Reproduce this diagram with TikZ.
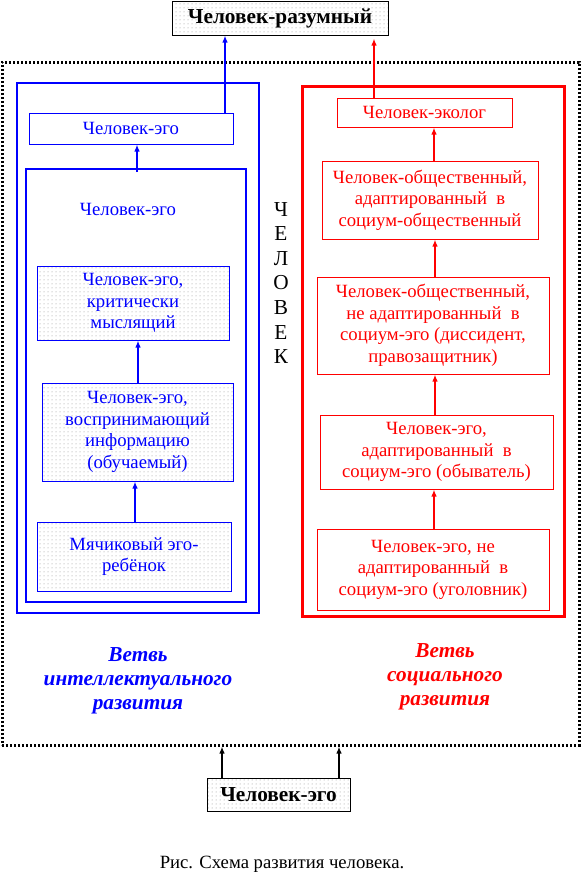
\documentclass[tikz,border=0pt]{standalone}
\usepackage{fontspec}
\setmainfont{Liberation Serif}
\usetikzlibrary{arrows.meta,patterns}
\pgfdeclarepatternformonly{mydots}{\pgfqpoint{-0.6pt}{-0.6pt}}{\pgfqpoint{0.6pt}{0.6pt}}{\pgfqpoint{4pt}{4pt}}{\pgfpathcircle{\pgfqpoint{0pt}{0pt}}{0.5pt}\pgfusepath{fill}}
\definecolor{mblue}{RGB}{0,0,255}
\definecolor{mred}{RGB}{255,0,0}
\tikzset{
  txt/.style={font=\fontsize{18.7}{21.5}\selectfont},
  bbox/.style={draw=mblue, line width=1pt, text=mblue, txt, align=center, inner sep=0pt},
  rbox/.style={draw=mred, line width=1pt, text=mred, txt, align=center, inner sep=0pt},
  kbox/.style={draw=black, line width=1pt, text=black, font=\fontsize{21.3}{24.5}\selectfont\bfseries, inner sep=0pt},
  dotfill/.style={pattern=mydots, pattern color=black!45},
  barrow/.style={draw=mblue, line width=1.5pt, -{Latex[length=7pt,width=5.5pt]}},
  rarrow/.style={draw=mred, line width=1.5pt, -{Latex[length=7pt,width=5.5pt]}},
  karrow/.style={draw=black, line width=1.5pt, -{Latex[length=7pt,width=5.5pt]}},
  frame/.style={inner sep=0pt, fill=none}
}
\begin{document}
\begin{tikzpicture}[x=1pt,y=-1pt]
\useasboundingbox (0,0) rectangle (583,892);

% outer dotted frame
\node[frame, draw=black, line width=3pt, dash pattern=on 2.2pt off 1.8pt,
  minimum width=577pt, minimum height=683pt] (outer) at (290.5,403.5) {};

% top and bottom boxes
\node[kbox, dotfill, minimum width=216pt, minimum height=34pt] (razum) at (280,18) {Человек-разумный};
\node[kbox, dotfill, minimum width=143pt, minimum height=33pt] (egoB) at (278.5,794.5) {Человек-эго};

% blue branch
\node[frame, draw=mblue, line width=2.7pt, minimum width=242pt, minimum height=530pt] (bout) at (138,348) {};
\node[frame, draw=mblue, line width=2pt, minimum width=220pt, minimum height=433pt] (binner) at (136,385.5) {};
\node[bbox, minimum width=204pt, minimum height=31pt] (egoS) at (131,128.5) {Человек-эго};
\node[text=mblue, txt] (egoL) at (128,209) {Человек-эго};
\node[bbox, dotfill, minimum width=192pt, minimum height=74pt] (krit) at (133,303) {Человек-эго,\\критически\\мыслящий};
\node[bbox, dotfill, minimum width=191pt, minimum height=98pt] (vosp) at (137.5,432) {Человек-эго,\\воспринимающий\\информацию\\(обучаемый)};
\node[bbox, dotfill, minimum width=194pt, minimum height=69pt] (myach) at (134,556.5) {Мячиковый эго-\\ребёнок};

% red branch
\node[frame, draw=mred, line width=3pt, minimum width=262pt, minimum height=530pt] (rout) at (433,351) {};
\node[rbox, minimum width=175pt, minimum height=29pt] (ecol) at (424.5,112.5) {Человек-эколог};
\node[rbox, minimum width=216pt, minimum height=78pt] (obsh) at (430,200) {Человек-общественный,\\адаптированный\ \ в\\социум-общественный};
\node[rbox, minimum width=232pt, minimum height=97pt] (nead) at (433,325.5) {Человек-общественный,\\не адаптированный\ \ в\\социум-эго (диссидент,\\правозащитник)};
\node[rbox, minimum width=233pt, minimum height=74pt] (obyv) at (436.5,452) {Человек-эго,\\адаптированный\ \ в\\социум-эго (обыватель)};
\node[rbox, minimum width=232pt, minimum height=81pt] (ugol) at (433,569.5) {Человек-эго, не\\адаптированный\ \ в\\социум-эго (уголовник)};

% vertical word
\node[align=center, font=\fontsize{21.3}{24.6}\selectfont, inner sep=0pt] (chel) at (281,283) {Ч\\Е\\Л\\О\\В\\Е\\К};

% branch labels
\node[align=center, text=mblue, font=\fontsize{21.3}{24}\selectfont\bfseries\itshape, inner sep=0pt] (lblB) at (138,681) {Ветвь\\интеллектуального\\развития};
\node[align=center, text=mred, font=\fontsize{21.3}{24}\selectfont\bfseries\itshape, inner sep=0pt] (lblR) at (445,677) {Ветвь\\социального\\развития};

% caption
\node[anchor=base, txt, inner sep=0pt] (cap) at (282,868) {Рис. Схема развития человека.};

% arrow columns
\coordinate (xb1) at (225,0);
\coordinate (xb2) at (137,0);
\coordinate (xb3) at (138,0);
\coordinate (xb4) at (135,0);
\coordinate (xr1) at (374,0);
\coordinate (xr2) at (434,0);
\coordinate (xr3) at (435,0);
\coordinate (xk1) at (222,0);
\coordinate (xk2) at (339,0);

% blue arrows
\draw[barrow] (egoS.north -| xb1) -- (razum.south -| xb1);
\draw[barrow] ([yshift=-4pt]binner.north -| xb2) -- (egoS.south -| xb2);
\draw[barrow] (vosp.north -| xb3) -- (krit.south -| xb3);
\draw[barrow] (myach.north -| xb4) -- (vosp.south -| xb4);

% red arrows
\draw[rarrow] (ecol.north -| xr1) -- ([yshift=-3pt]razum.south -| xr1);
\draw[rarrow] (obsh.north -| xr2) -- (ecol.south -| xr2);
\draw[rarrow] (nead.north -| xr3) -- (obsh.south -| xr3);
\draw[rarrow] (obyv.north -| xr3) -- (nead.south -| xr3);
\draw[rarrow] (ugol.north -| xr2) -- (obyv.south -| xr2);

% black arrows
\draw[karrow] (egoB.north -| xk1) -- (outer.south -| xk1);
\draw[karrow] (egoB.north -| xk2) -- (outer.south -| xk2);
\end{tikzpicture}
\end{document}
